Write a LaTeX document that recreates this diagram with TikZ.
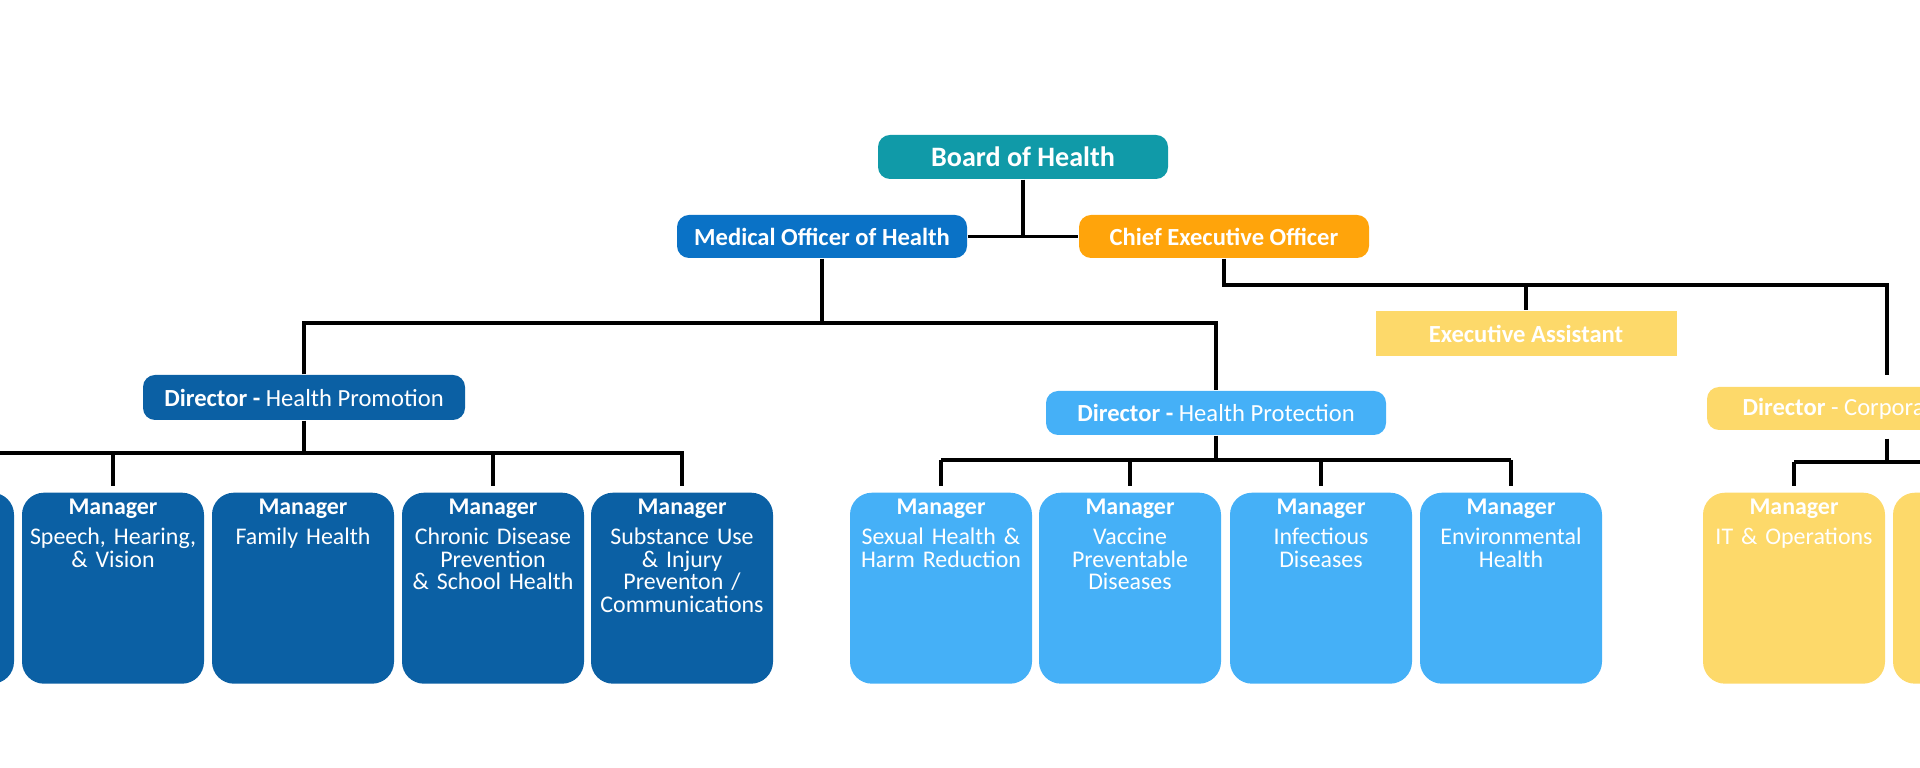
\documentclass[tikz,border=0pt]{standalone}
\usepackage{fontspec}
\setmainfont{Carlito}

\definecolor{boardteal}{HTML}{109AA8}
\definecolor{mohblue}{HTML}{0A72C6}
\definecolor{ceoorange}{HTML}{FFA40B}
\definecolor{promoblue}{HTML}{0B60A4}
\definecolor{protblue}{HTML}{45B0F7}
\definecolor{corpyellow}{HTML}{FDD96A}

\begin{document}
\begin{tikzpicture}[
    head/.style={rounded corners=1.2mm, text=white, inner sep=0pt,
                 font=\fontsize{7}{8}\selectfont},
    mgr/.style={rounded corners=2.2mm, text=white, inner sep=0pt, anchor=north,
                text width=1.82cm, align=center,
                text height=0.22cm, text depth=1.69cm,
                font=\fontsize{6.8}{6.4}\selectfont},
    wire/.style={line width=0.9pt},
  ]
  \path[use as bounding box, clip] (0,0) rectangle (19.2,7.68);

  \node[head, fill=boardteal, minimum width=2.9cm, minimum height=0.44cm,
        font=\fontsize{8}{9}\selectfont\bfseries] (board) at (10.23,6.11) {Board of Health};
  \node[head, fill=mohblue, minimum width=2.9cm, minimum height=0.43cm,
        font=\fontsize{7}{8}\selectfont\bfseries] (moh) at (8.22,5.315) {Medical Officer of Health};
  \node[head, fill=ceoorange, minimum width=2.9cm, minimum height=0.43cm,
        font=\fontsize{7}{8}\selectfont\bfseries] (ceo) at (12.24,5.315) {Chief Executive Officer};
  \node[head, rounded corners=0pt, fill=corpyellow, minimum width=3.01cm, minimum height=0.45cm,
        font=\fontsize{7}{8}\selectfont\bfseries] (ea) at (15.26,4.345) {Executive Assistant};

  \node[head, fill=promoblue, minimum width=3.22cm, minimum height=0.45cm] (dirP) at (3.04,3.705)
    {\textbf{Director -} Health Promotion};
  \node[head, fill=protblue, minimum width=3.4cm, minimum height=0.44cm] (dirR) at (12.16,3.55)
    {\textbf{Director -} Health Protection};
  \node[head, fill=corpyellow, minimum width=3.6cm, minimum height=0.43cm] (dirC) at (18.87,3.595)
    {\textbf{Director} - Corporate Services};

  \node[mgr, fill=promoblue] (m0) at (-0.77,2.76) {};
  \node[mgr, fill=promoblue] (m1) at (1.13,2.76) {\textbf{Manager}\\[2.1pt] Speech, Hearing,\\ \& Vision};
  \node[mgr, fill=promoblue] (m2) at (3.03,2.76) {\textbf{Manager}\\[2.1pt] Family Health};
  \node[mgr, fill=promoblue] (m3) at (4.93,2.76) {\textbf{Manager}\\[2.1pt] Chronic Disease\\ Prevention\\ \& School Health};
  \node[mgr, fill=promoblue] (m4) at (6.82,2.76) {\textbf{Manager}\\[2.1pt] Substance Use\\ \& Injury\\ Preventon /\\ Communications};

  \node[mgr, fill=protblue] (p1) at (9.41,2.76) {\textbf{Manager}\\[2.1pt] Sexual Health \&\\ Harm Reduction};
  \node[mgr, fill=protblue] (p2) at (11.30,2.76) {\textbf{Manager}\\[2.1pt] Vaccine\\ Preventable\\ Diseases};
  \node[mgr, fill=protblue] (p3) at (13.21,2.76) {\textbf{Manager}\\[2.1pt] Infectious\\ Diseases};
  \node[mgr, fill=protblue] (p4) at (15.11,2.76) {\textbf{Manager}\\[2.1pt] Environmental\\ Health};

  \node[mgr, fill=corpyellow] (c1) at (17.94,2.76) {\textbf{Manager}\\[2.1pt] IT \& Operations};
  \node[mgr, fill=corpyellow] (c2) at (19.84,2.76) {};

  \coordinate (mohbus) at (8.22,4.45);
  \coordinate (ceobus) at (12.24,4.83);
  \coordinate (pbus) at (3.04,3.15);
  \coordinate (rbus) at (12.16,3.08);
  \coordinate (cbus) at (18.87,3.06);

  \draw[wire] (board.south) -- (board.south |- moh.east);
  \draw[wire] (moh.east) -- (ceo.west);

  \draw[wire] (moh.south) -- (mohbus);
  \draw[wire] (dirP.north) |- (mohbus) -| (dirR.north);

  \draw[wire] (ceo.south) -- (ceobus) -| ([yshift=1.1mm]dirC.north);
  \draw[wire] (ceobus -| ea.north) -- (ea.north);

  \draw[wire] (dirP.south) -- (pbus);
  \draw[wire, shorten >=0.6mm] (m0.north |- pbus) -- (m4.north |- pbus) -- (m4.north);
  \foreach \m in {m0,m1,m3}
    \draw[wire, shorten >=0.6mm] (\m.north |- pbus) -- (\m.north);

  \draw[wire] (dirR.south) -- (rbus);
  \draw[wire] (p1.north |- rbus) -- (p4.north |- rbus);
  \foreach \m in {p1,p2,p3,p4}
    \draw[wire, shorten >=0.6mm] (\m.north |- rbus) -- (\m.north);

  \draw[wire] ([yshift=-0.8mm]dirC.south) -- (cbus);
  \draw[wire] (c1.north |- cbus) -- (c2.north |- cbus);
  \foreach \m in {c1,c2}
    \draw[wire, shorten >=0.6mm] (\m.north |- cbus) -- (\m.north);
\end{tikzpicture}
\end{document}
